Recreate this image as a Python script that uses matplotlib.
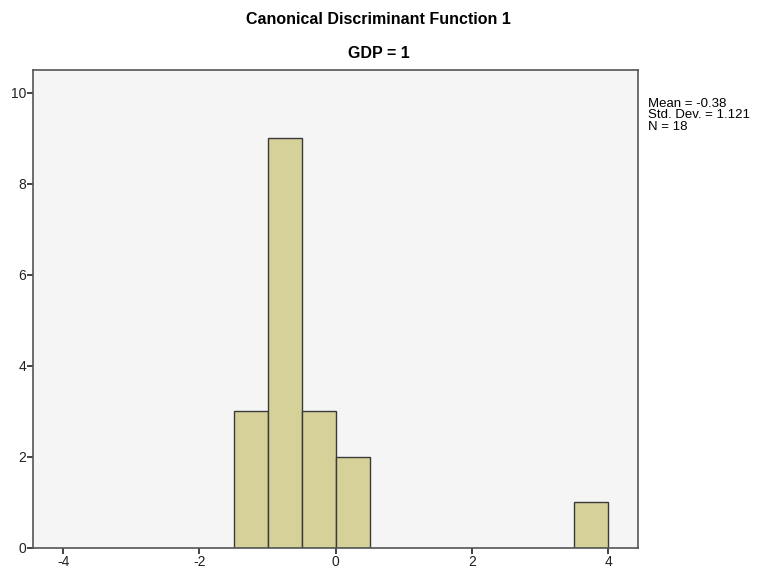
import matplotlib
matplotlib.use("Agg")
import matplotlib.pyplot as plt

plt.rcParams['font.family'] = ['Liberation Sans', 'DejaVu Sans']
plt.rcParams['axes.unicode_minus'] = False

# histogram bins (width 0.5) and counts
bin_left = [-1.5, -1.0, -0.5, 0.0, 3.5]
counts = [3, 9, 3, 2, 1]
bin_width = 0.5
x_ticks = [-4, -2, 0, 2, 4]
y_ticks = [0, 2, 4, 6, 8, 10]
stats_text = "Mean = -0.38\nStd. Dev. = 1.121\nN = 18"

fig = plt.figure(figsize=(7.57, 5.72), dpi=100)
ax = fig.add_axes([0.044, 0.042, 0.7988, 0.836])
ax.set_facecolor('#f5f5f5')

ax.bar(bin_left, counts, width=bin_width, align='edge',
       color='#d6d199', edgecolor='#3a3a3a', linewidth=1.0)

ax.set_xlim(-4.44, 4.44)
ax.set_ylim(0, 10.5)
ax.set_xticks(x_ticks)
ax.set_yticks(y_ticks)
ax.tick_params(direction='out', length=4, width=1.2, labelsize=10, pad=1, colors='#222222')
for s in ax.spines.values():
    s.set_color('#555555')
    s.set_linewidth(1.2)

fig.text(0.5, 0.966, "Canonical Discriminant Function 1", ha='center', va='center',
         fontsize=11.5, fontweight='bold')
fig.text(0.5, 0.907, "GDP = 1", ha='center', va='center',
         fontsize=11.5, fontweight='bold')
fig.text(0.856, 0.829, stats_text, ha='left', va='top', fontsize=9.5,
         linespacing=0.95)

fig.savefig("out.png", dpi=100)
